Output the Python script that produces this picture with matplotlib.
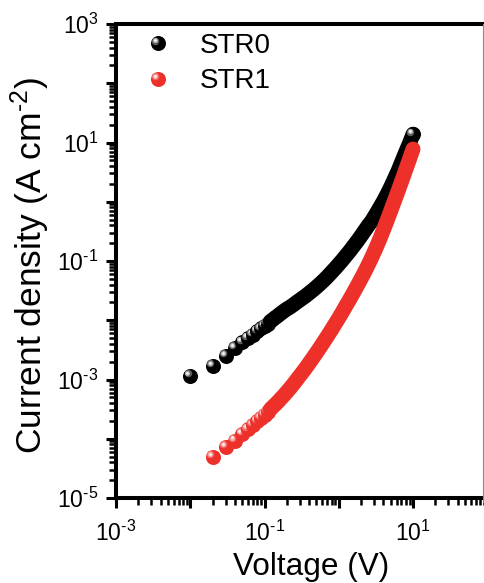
import numpy as np
import matplotlib
matplotlib.use("Agg")
import matplotlib.pyplot as plt
from matplotlib.lines import Line2D
from matplotlib.transforms import offset_copy
from matplotlib.legend_handler import HandlerBase
from matplotlib.ticker import FixedLocator, FuncFormatter, LogLocator, NullFormatter

plt.rcParams['font.family'] = ['Liberation Sans', 'DejaVu Sans']
plt.rcParams['mathtext.fontset'] = 'custom'
plt.rcParams['mathtext.rm'] = 'Liberation Sans'
plt.rcParams['mathtext.it'] = 'Liberation Sans:italic'
plt.rcParams['mathtext.bf'] = 'Liberation Sans:bold'
plt.rcParams['mathtext.sf'] = 'Liberation Sans'

# ---------------- data ----------------
labels = ["STR0", "STR1"]

v_str0 = [0.01, 0.02, 0.03, 0.04, 0.05, 0.06, 0.07, 0.08, 0.09, 0.10,
          0.11, 0.12, 0.13, 0.14, 0.15, 0.16, 0.18, 0.20, 0.22, 0.25,
          0.28, 0.32, 0.36, 0.40, 0.45, 0.50, 0.56, 0.63, 0.71, 0.80,
          0.90, 1.0, 1.1, 1.25, 1.4, 1.6, 1.8, 2.0, 2.2, 2.5,
          2.8, 3.2, 3.6, 4.0, 4.5, 5.0, 5.6, 6.3, 7.1, 8.0, 9.0, 10.0]
j_str0 = [1.15e-3, 1.70e-3, 2.51e-3, 3.39e-3, 4.27e-3, 4.95e-3, 5.74e-3, 6.52e-3, 7.28e-3, 8.05e-3,
          8.81e-3, 9.57e-3, 1.03e-2, 1.11e-2, 1.18e-2, 1.26e-2, 1.41e-2, 1.55e-2, 1.66e-2, 1.86e-2,
          2.07e-2, 2.33e-2, 2.59e-2, 2.88e-2, 3.24e-2, 3.63e-2, 4.12e-2, 4.73e-2, 5.50e-2, 6.46e-2,
          7.59e-2, 8.81e-2, 0.101, 0.123, 0.146, 0.182, 0.221, 0.266, 0.316, 0.398,
          0.479, 0.631, 0.813, 1.02, 1.35, 1.76, 2.40, 3.31, 4.79, 6.92, 9.77, 13.8]

v_str1 = [0.02, 0.03, 0.04, 0.05, 0.06, 0.07, 0.08, 0.09, 0.10,
          0.11, 0.12, 0.13, 0.14, 0.15, 0.16, 0.18, 0.20, 0.22, 0.25,
          0.28, 0.32, 0.36, 0.40, 0.45, 0.50, 0.56, 0.63, 0.71, 0.80,
          0.90, 1.0, 1.1, 1.25, 1.4, 1.6, 1.8, 2.0, 2.2, 2.5,
          2.8, 3.2, 3.6, 4.0, 4.5, 5.0, 5.6, 6.3, 7.1, 8.0, 9.0, 10.0]
j_str1 = [4.90e-5, 7.24e-5, 9.33e-5, 1.20e-4, 1.45e-4, 1.71e-4, 1.97e-4, 2.25e-4, 2.54e-4,
          2.84e-4, 3.15e-4, 3.48e-4, 3.80e-4, 4.15e-4, 4.52e-4, 5.30e-4, 6.17e-4, 7.08e-4, 8.63e-4,
          1.04e-3, 1.29e-3, 1.57e-3, 1.89e-3, 2.33e-3, 2.82e-3, 3.48e-3, 4.35e-3, 5.48e-3, 6.93e-3,
          8.81e-3, 1.09e-2, 1.33e-2, 1.76e-2, 2.24e-2, 3.02e-2, 3.94e-2, 5.04e-2, 6.30e-2, 8.69e-2,
          0.117, 0.170, 0.241, 0.335, 0.490, 0.697, 1.02, 1.52, 2.30, 3.51, 5.31, 7.76]

# ---------------- styling ----------------
W, H, DPI = 485, 583, 100
MS = 10.8  # marker diameter in points (~15 px)
black_layers = [(MS, '#000000', 0, 0), (5.4, '#5e5e5e', -1.9, 1.9),
                (3.6, '#b5b5b5', -2.1, 2.1), (1.8, '#ffffff', -2.2, 2.2)]
red_layers = [(MS, '#ee302a', 0, 0), (5.4, '#f36a64', -1.9, 1.9),
              (3.6, '#f8aeab', -2.1, 2.1), (1.8, '#ffffff', -2.2, 2.2)]

fig = plt.figure(figsize=(W / DPI, H / DPI), dpi=DPI)
left_px, top_px, bot_px = 116, 24, 498
dec_px = 74.25
ax_w = 5 * dec_px
ax_h = bot_px - top_px
ax = fig.add_axes([left_px / W, (H - bot_px) / H, ax_w / W, ax_h / H])
ax.set_xscale('log')
ax.set_yscale('log')
ax.set_xlim(1e-3, 1e2)
ax.set_ylim(1e-5, 1e3)


def draw_series(v, j, layers, zbase, dense_from, end_highlight):
    v = np.asarray(v)
    j = np.asarray(j)
    color = layers[0][1]
    # discrete spheres (low voltage) drawn point by point so later ones cover earlier highlights
    idx_sparse = np.where(v <= dense_from * 0.999)[0]
    for k in idx_sparse:
        for (ms, c, dx, dy) in layers:
            tr = offset_copy(ax.transData, fig=fig, x=dx, y=dy, units='points')
            ax.plot([v[k]], [j[k]], ls='none', marker='o', ms=ms, color=c,
                    mec='none', transform=tr, zorder=zbase, clip_on=False)
    # dense part: overlapping spheres form a continuous band
    m = v >= dense_from
    ax.plot(v[m], j[m], color=color, lw=MS, solid_capstyle='round',
            solid_joinstyle='round', zorder=zbase + 0.1)
    if end_highlight:
        for (ms, c, dx, dy) in layers:
            tr = offset_copy(ax.transData, fig=fig, x=dx, y=dy, units='points')
            ax.plot([v[-1]], [j[-1]], ls='none', marker='o', ms=ms, color=c,
                    mec='none', transform=tr, zorder=zbase + 0.2)


draw_series(v_str0, j_str0, black_layers, 3, 0.12, True)
draw_series(v_str1, j_str1, red_layers, 4, 0.12, False)

# ---------------- axes ----------------
for s in ['left', 'bottom', 'top']:
    ax.spines[s].set_linewidth(2.9)
ax.spines['right'].set_visible(False)

ax.xaxis.set_major_locator(FixedLocator([10.0 ** e for e in range(-3, 3)]))
ax.yaxis.set_major_locator(FixedLocator([10.0 ** e for e in range(-5, 4)]))
ax.xaxis.set_minor_locator(LogLocator(base=10, subs=np.arange(2, 10), numticks=20))
ax.yaxis.set_minor_locator(LogLocator(base=10, subs=np.arange(2, 10), numticks=20))


def fmt(val, pos):
    e = int(round(np.log10(val)))
    if e % 2 == 0:
        return ''
    if e < 0:
        return r'$\mathregular{10^{\text{-}%d}}$' % (-e)
    return r'$\mathregular{10^{%d}}$' % e


ax.xaxis.set_major_formatter(FuncFormatter(fmt))
ax.yaxis.set_major_formatter(FuncFormatter(fmt))
ax.xaxis.set_minor_formatter(NullFormatter())
ax.yaxis.set_minor_formatter(NullFormatter())

ax.tick_params(which='both', direction='out', top=False, right=False)
ax.tick_params(which='major', length=7.2, width=2.2, labelsize=16.5)
ax.tick_params(which='minor', length=4.8, width=1.8)
ax.tick_params(axis='y', which='major', pad=5.5)
ax.tick_params(axis='x', which='major', pad=9)

ax.set_xlabel('Voltage (V)', fontsize=22.7)
ax.xaxis.set_label_coords((311 - left_px) / ax_w, (bot_px - 552) / ax_h)
ax.set_ylabel(r'Current density (A cm$^{\text{-}2}$)', fontsize=25.5)
ax.yaxis.set_label_coords((52 - left_px) / ax_w, (bot_px - 266) / ax_h)


# ---------------- legend ----------------
class SphereHandler(HandlerBase):
    def __init__(self, layers, **kw):
        super().__init__(**kw)
        self.layers = layers

    def create_artists(self, legend, orig_handle, xdescent, ydescent,
                       width, height, fontsize, trans):
        cx = 0.5 * width - xdescent
        cy = 0.5 * height - ydescent
        arts = []
        for (ms, c, dx, dy) in self.layers:
            ln = Line2D([cx + dx], [cy + dy], ls='none', marker='o', ms=ms,
                        color=c, mec='none')
            ln.set_transform(trans)
            arts.append(ln)
        return arts


h0 = Line2D([], [])
h1 = Line2D([], [])
ax.legend([h0, h1], labels, handler_map={h0: SphereHandler(black_layers),
                                         h1: SphereHandler(red_layers)},
          loc='upper left', bbox_to_anchor=(144 / W, 1 - 33 / H),
          bbox_transform=fig.transFigure, frameon=False, fontsize=20,
          handlelength=1.0, handletextpad=1.0, labelspacing=0.34,
          borderpad=0, borderaxespad=0)

# thin grey border line at the right edge of the picture
fig.add_artist(Line2D([483.5 / W] * 2, [1 - 24 / H, 1 - 502 / H],
                      transform=fig.transFigure, color='#8c8c8c', lw=0.8))

fig.savefig('out.png', dpi=DPI)
